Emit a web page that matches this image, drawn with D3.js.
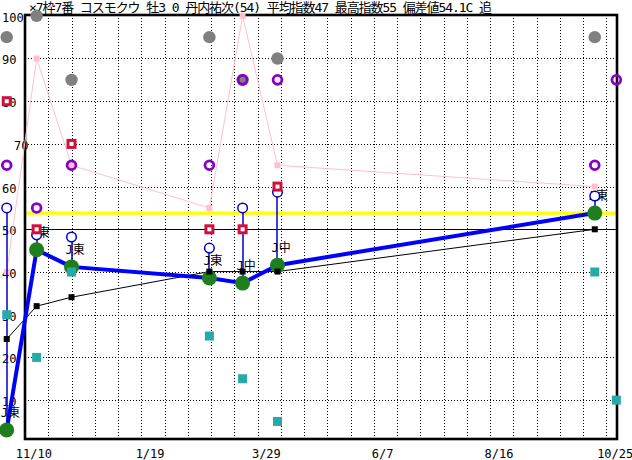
<!DOCTYPE html>
<html><head><meta charset="utf-8">
<script src="https://cdn.jsdelivr.net/npm/d3@7"></script>
<style>body{margin:0;background:#fff} svg{display:block}</style>
</head><body><svg id="c" width="632" height="460"></svg>
<script>
const title = "×7枠7番 コスモクウ 牡3 0 丹内祐次(54) 平均指数47 最高指数55 偏差値54.1C 追";
const raceDates = ["2023-10-25","2023-11-12","2023-12-03","2024-02-24","2024-03-15","2024-04-05","2024-10-13","2024-10-26"];
const grayIdx   = [95,100,85,95,85,90,95,null];
const purpleIdx = [65,55,65,65,85,85,65,85];
const redIdx    = [80,50,70,50,50,60,null,null];
const pinkIdx   = [40,90,65,55,100,65,60,null];
const blueIdx   = [55,48.7,48.2,45.6,55,58.7,57.8,null];
const greenIdx  = [3,45.2,41.2,38.6,37.4,41.6,53.8,null];
const blackIdx  = [24.3,32,34.1,40.1,40.1,40.1,50,null];
const tealIdx   = [30,20,40,25,15,5,40,10];
const courseLabels = ["J東","J東","J東","J東","J中","J中","J東",null];
const xTickDates  = ["2023-11-10","2024-01-19","2024-03-29","2024-06-07","2024-08-16","2024-10-25"];
const xTickLabels = ["11/10","1/19","3/29","6/7","8/16","10/25"];
const yTicks = [10,20,30,40,50,60,70,80,90,100];
const baseLineValue = 50;
const deviationValue = 53.8;

const P = d => new Date(d + "T00:00:00Z");
const svg = d3.select("#c");
const FONT = "'DejaVu Sans Mono','Noto Sans CJK JP',monospace";

const x = d3.scaleUtc().domain([P("2023-11-05"), P("2024-10-20")]).range([25, 606.4]);
const y = d3.scaleLinear().domain([0, 100]).range([442.8, 15.8]);
const frame = {left: 25, top: 15, right: 617, bottom: 439};
const crisp = v => Math.round(v) + 0.5;

svg.append("rect").attr("width", 632).attr("height", 460).attr("fill", "#fff");

// grid
const grid = svg.append("g").attr("stroke", "#000").attr("stroke-width", 1).attr("stroke-dasharray", "1,2");
grid.selectAll("line.h").data(yTicks.filter(v => v > 0 && v < 100 && v !== baseLineValue)).join("line")
  .attr("x1", frame.left).attr("x2", frame.right)
  .attr("y1", d => crisp(y(d))).attr("y2", d => crisp(y(d)));
const vDates = d3.utcDay.range(P("2023-11-19"), P("2024-10-21"), 14);
grid.selectAll("line.v").data(vDates).join("line")
  .attr("y1", frame.top).attr("y2", frame.bottom)
  .attr("x1", d => crisp(x(d))).attr("x2", d => crisp(x(d)));

// base line 50
svg.append("line").attr("x1", frame.left).attr("x2", frame.right)
  .attr("y1", crisp(y(baseLineValue))).attr("y2", crisp(y(baseLineValue)))
  .attr("stroke", "#000").attr("stroke-width", 1);
// deviation line
svg.append("line").attr("x1", frame.left).attr("x2", frame.right + 1)
  .attr("y1", y(deviationValue)).attr("y2", y(deviationValue))
  .attr("stroke", "#ffff00").attr("stroke-width", 3.3);

// frame
svg.append("rect").attr("x", frame.left).attr("y", frame.top)
  .attr("width", frame.right - frame.left).attr("height", frame.bottom - frame.top)
  .attr("fill", "none").attr("stroke", "#000").attr("stroke-width", 2.6);

// title
svg.append("text").attr("x", 29).attr("y", 12).attr("font-family", FONT).attr("font-size", 13)
  .attr("textLength", 463).attr("lengthAdjust", "spacing").text(title);

// y axis
const ya = svg.append("g").call(d3.axisLeft(y).tickValues(yTicks).tickSize(0).tickFormat(d3.format("d")));
ya.select(".domain").remove();
ya.selectAll("text").attr("x", d => d === 70 ? 14 : 2).attr("text-anchor", "start").attr("dy", "0.45em")
  .attr("font-family", FONT).attr("font-size", 12).attr("fill", "#000");

// x axis
const xa = svg.append("g").attr("transform", "translate(0,446)")
  .call(d3.axisBottom(x).tickValues(xTickDates.map(P)).tickSize(0).tickFormat((d, i) => xTickLabels[i]));
xa.select(".domain").remove();
xa.selectAll("text").attr("y", 12).attr("dy", 0).attr("font-family", FONT).attr("font-size", 12).attr("fill", "#000");

const races = raceDates.map((d, i) => ({
  d: P(d), gray: grayIdx[i], purple: purpleIdx[i], red: redIdx[i], pink: pinkIdx[i],
  blue: blueIdx[i], green: greenIdx[i], black: blackIdx[i], teal: tealIdx[i], lab: courseLabels[i]
}));
const has = k => races.filter(r => r[k] != null);

// pink
svg.append("path").datum(has("pink"))
  .attr("d", d3.line().x(r => x(r.d)).y(r => y(r.pink)))
  .attr("fill", "none").attr("stroke", "#ffc0cb").attr("stroke-width", 1);
svg.selectAll("rect.pink").data(has("pink")).join("rect")
  .attr("x", r => x(r.d) - 3).attr("y", r => y(r.pink) - 3).attr("width", 6).attr("height", 6).attr("fill", "#ffc0cb");

// black line
svg.append("path").datum(has("black"))
  .attr("d", d3.line().x(r => x(r.d)).y(r => y(r.black)))
  .attr("fill", "none").attr("stroke", "#000").attr("stroke-width", 1);

// blue thick line
svg.append("path").datum(has("green"))
  .attr("d", d3.line().x(r => x(r.d)).y(r => y(r.green)))
  .attr("fill", "none").attr("stroke", "#0000ff").attr("stroke-width", 4).attr("stroke-linejoin", "round");

// blue drop lines
svg.selectAll("line.drop").data(has("blue")).join("line")
  .attr("x1", r => crisp(x(r.d)) - 0.5).attr("x2", r => crisp(x(r.d)) - 0.5)
  .attr("y1", r => y(r.blue)).attr("y2", r => y(r.green))
  .attr("stroke", "#0000c8").attr("stroke-width", 1.5);

// green circles
svg.selectAll("circle.green").data(has("green")).join("circle")
  .attr("cx", r => x(r.d)).attr("cy", r => y(r.green)).attr("r", 7.5).attr("fill", "#1f7f1f");

// black squares
svg.selectAll("rect.black").data(has("black")).join("rect")
  .attr("x", r => x(r.d) - 3).attr("y", r => y(r.black) - 3).attr("width", 6).attr("height", 6).attr("fill", "#000");

// course labels
svg.selectAll("text.lab").data(has("lab")).join("text")
  .attr("x", r => x(r.d) - 6).attr("y", r => y(r.green) - 13)
  .attr("font-family", FONT).attr("font-size", 12).attr("fill", "#000").text(r => r.lab);

// blue circles
svg.selectAll("circle.blue").data(has("blue")).join("circle")
  .attr("cx", r => x(r.d)).attr("cy", r => y(r.blue)).attr("r", 4.8)
  .attr("fill", "#fff").attr("stroke", "#0000c8").attr("stroke-width", 1.5);

// teal squares
svg.selectAll("rect.teal").data(has("teal")).join("rect")
  .attr("x", r => x(r.d) - 4.5).attr("y", r => y(r.teal) - 4.5).attr("width", 9).attr("height", 9).attr("fill", "#26aaa8");

// red squares
svg.selectAll("rect.red").data(has("red")).join("rect")
  .attr("x", r => x(r.d) - 3.5).attr("y", r => y(r.red) - 3.5).attr("width", 7).attr("height", 7)
  .attr("fill", "#fff").attr("stroke", "#d0103c").attr("stroke-width", 3);

// gray circles
svg.selectAll("circle.gray").data(has("gray")).join("circle")
  .attr("cx", r => x(r.d)).attr("cy", r => y(r.gray)).attr("r", 6.2).attr("fill", "#808080");

// purple rings
svg.selectAll("circle.purple").data(has("purple")).join("circle")
  .attr("cx", r => x(r.d)).attr("cy", r => y(r.purple)).attr("r", 4.4)
  .attr("fill", "none").attr("stroke", "#8800c4").attr("stroke-width", 2.8);
</script></body></html>
